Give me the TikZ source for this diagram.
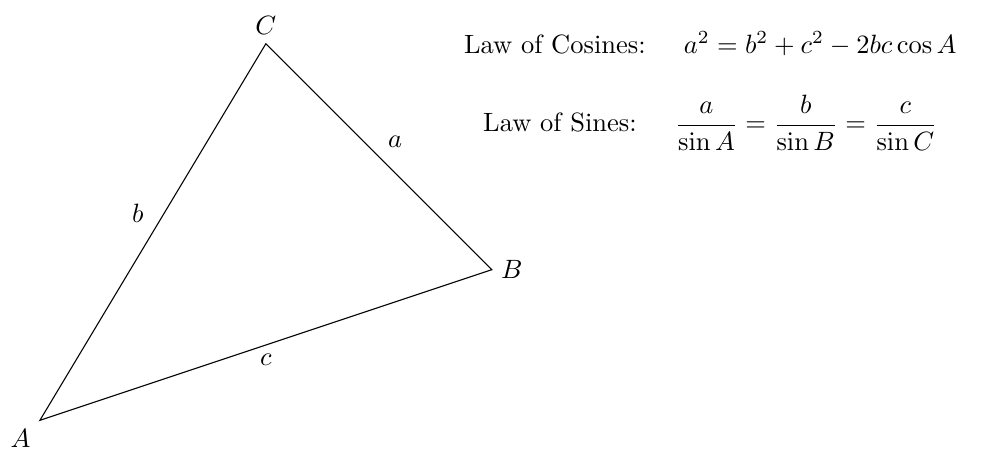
\documentclass[tikz,border=0pt]{standalone}
\usepackage{tikz}
\usetikzlibrary{positioning,calc}
\tikzset{every picture/.style={line width=0.4pt}}

\begin{document}
\begin{tikzpicture}[scale=1.0]
    % 画布范围
    \useasboundingbox (-0.53,-0.425) rectangle (12.52,5.58);

    % 三角形顶点
    \coordinate (A) at (0,0);
    \coordinate (B) at (6,2);
    \coordinate (C) at (3,5);

    % 绘制三角形
    \draw (A) -- (B) -- (C) -- cycle;

    % 顶点标注
    \node[below left] (labA) at (A) {$A$};
    \node[right] (labB) at (B) {$B$};
    \node[above] (labC) at (C) {$C$};

    % 边标注
    \node[above right] (sidea) at ($(B)!0.5!(C)$) {$a$};
    \node[above left] (sideb) at ($(A)!0.5!(C)$) {$b$};
    \node[below] (sidec) at ($(A)!0.5!(B)$) {$c$};

    % 公式
    \node (cosines) at (8.9,5) {Law of Cosines: \quad $a^2 = b^2 + c^2 - 2bc\cos A$};
    \node (sines) at (8.9,3.95) {Law of Sines: \quad $\displaystyle \frac{a}{\sin A} = \frac{b}{\sin B} = \frac{c}{\sin C}$};
\end{tikzpicture}
\end{document}
